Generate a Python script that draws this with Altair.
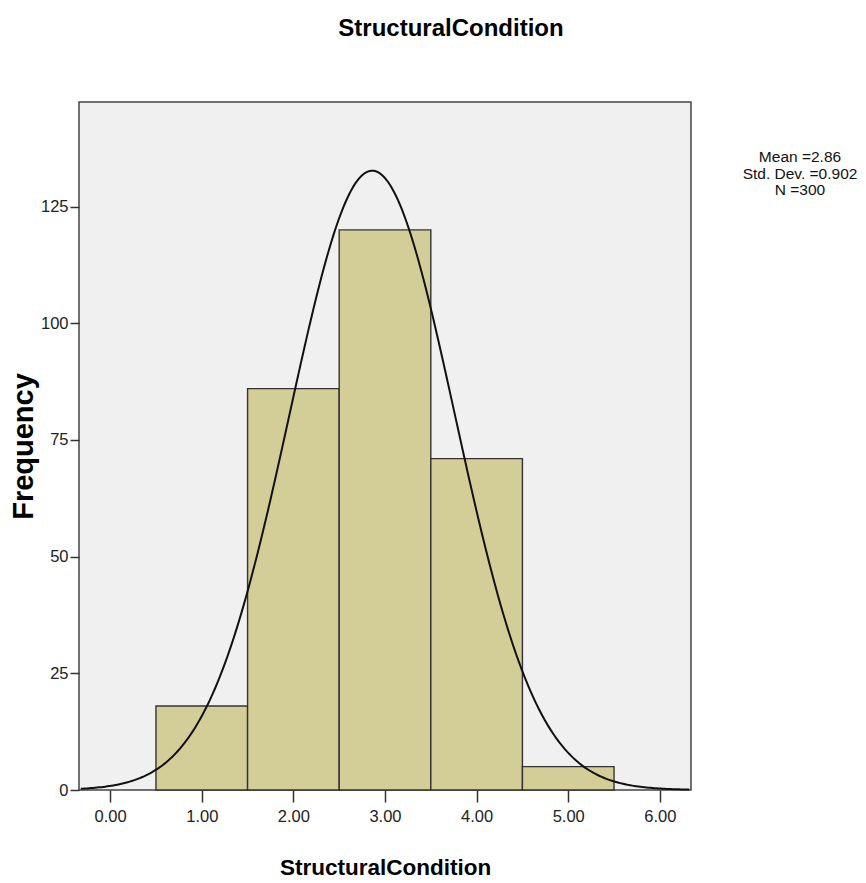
import altair as alt
import numpy as np
import pandas as pd

# Histogram data
bin_centers = [1, 2, 3, 4, 5]
frequencies = [18, 86, 120, 71, 5]
bin_width = 1.0

# Statistics shown in the chart
mean_val = 2.86
sd_val = 0.902
n_val = 300

x_ticks = [0, 1, 2, 3, 4, 5, 6]
y_ticks = [0, 25, 50, 75, 100, 125]
stat_lines = ["Mean =2.86", "Std. Dev. =0.902", "N =300"]

x_domain = [-0.34, 6.34]
y_domain = [0, 147.4]

bars = pd.DataFrame({
    "start": [c - bin_width / 2 for c in bin_centers],
    "end": [c + bin_width / 2 for c in bin_centers],
    "freq": frequencies,
})

# Fitted normal curve from the displayed mean / sd / N
xs = np.linspace(x_domain[0] + 0.02, x_domain[1] - 0.02, 300)
ys = n_val * bin_width / (sd_val * np.sqrt(2 * np.pi)) * np.exp(-0.5 * ((xs - mean_val) / sd_val) ** 2)
curve = pd.DataFrame({"x": xs, "y": ys})

FONT = "Liberation Sans, Arial, sans-serif"

x_scale = alt.Scale(domain=x_domain, nice=False, zero=False)
y_scale = alt.Scale(domain=y_domain, nice=False)

x_axis = alt.Axis(
    values=x_ticks, format=".2f", grid=False, domain=False,
    tickSize=12, tickWidth=1.5, tickColor="#333333",
    labelFont=FONT, labelFontSize=16.5, labelColor="#222222", labelPadding=6,
    title="StructuralCondition", titleFont=FONT, titleFontSize=22.5,
    titleFontWeight="bold", titleColor="#000000",
    titleY=84, titleBaseline="alphabetic",
)
y_axis = alt.Axis(
    values=y_ticks, format="d", grid=False, domain=False,
    tickSize=9, tickWidth=1.5, tickColor="#333333",
    labelFont=FONT, labelFontSize=16.5, labelColor="#222222", labelPadding=2,
    title="Frequency", titleFont=FONT, titleFontSize=29,
    titleFontWeight="bold", titleColor="#000000",
    titleX=-56, titleY=344, titleAngle=-90, titleAlign="center",
    titleBaseline="middle",
)

bar_layer = alt.Chart(bars).mark_rect(
    fill="#d3ce97", stroke="#333333", strokeWidth=1.4
).encode(
    x=alt.X("start:Q", scale=x_scale, axis=x_axis),
    x2="end:Q",
    y=alt.Y("freq:Q", scale=y_scale, axis=y_axis),
    y2=alt.datum(0),
)

curve_layer = alt.Chart(curve).mark_line(
    color="#111111", strokeWidth=2
).encode(
    x=alt.X("x:Q", scale=x_scale),
    y=alt.Y("y:Q", scale=y_scale),
)

stats_layer = alt.Chart(pd.DataFrame({"t": [0]})).mark_text(
    font=FONT, fontSize=15.5, color="#111111", align="center",
    baseline="alphabetic", lineHeight=16.5
).encode(
    x=alt.value(721), y=alt.value(60), text=alt.value(stat_lines)
)

chart = alt.layer(bar_layer, curve_layer, stats_layer).properties(
    width=612, height=688,
    title=alt.TitleParams(
        "StructuralCondition", font=FONT, fontSize=24, fontWeight="bold",
        color="#000000", anchor="middle", dx=66, offset=42,
        baseline="alphabetic"
    ),
    autosize=alt.AutoSizeParams(type="none"),
    padding={"left": 79, "top": 102, "right": 175, "bottom": 93},
    background="#ffffff",
).configure_view(
    fill="#f0f0f0", stroke="#444444", strokeWidth=1.5
)

chart.save("out.html", embed_options={"renderer": "svg", "actions": False})
